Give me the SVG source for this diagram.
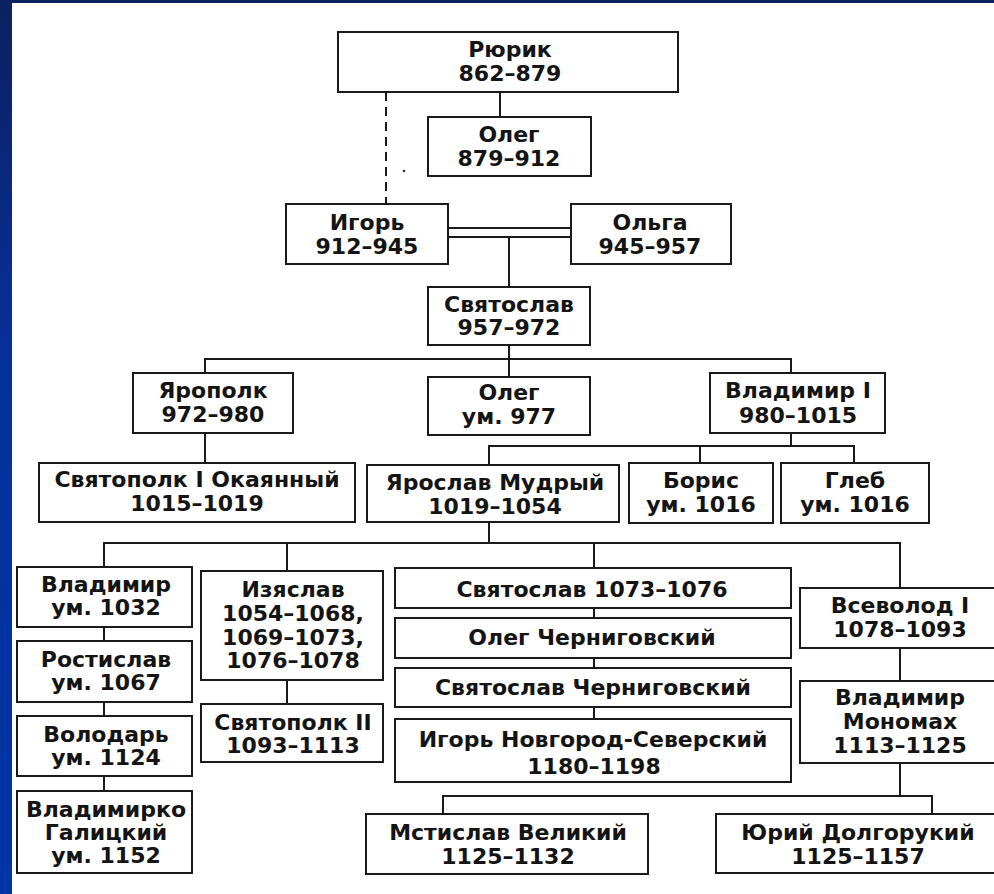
<svg xmlns="http://www.w3.org/2000/svg" width="994" height="894" viewBox="0 0 994 894">
<defs>
<linearGradient id="bl" x1="0" y1="0" x2="0" y2="1">
<stop offset="0" stop-color="#0b2160"/>
<stop offset="0.4" stop-color="#06309a"/>
<stop offset="1" stop-color="#0035a8"/>
</linearGradient>
<style>
.b{fill:#fff;stroke:#1a1a1a;stroke-width:2}
.t{font-family:"DejaVu Sans","Liberation Sans",sans-serif;font-weight:bold;font-size:22px;fill:#141414;text-anchor:middle}
.c line,.c path{stroke:#1a1a1a;stroke-width:2;fill:none}
</style>
</defs>
<rect x="0" y="0" width="994" height="894" fill="#fff"/>
<rect x="0" y="0" width="12" height="894" fill="url(#bl)"/>
<rect x="0" y="0" width="994" height="3" fill="#0b2160"/>

<g id="connectors" class="c">
<line x1="500" y1="92" x2="500" y2="117"/>
<line x1="386" y1="92" x2="386" y2="204" stroke-dasharray="9,6"/>
<line x1="448" y1="228" x2="571" y2="228"/>
<line x1="448" y1="237" x2="571" y2="237"/>
<line x1="509" y1="237" x2="509" y2="287"/>
<line x1="509" y1="345" x2="509" y2="377"/>
<path d="M205 373 V359 H791 V373"/>
<line x1="205" y1="433" x2="205" y2="463"/>
<path d="M791 433 V446 M489 465 V446 H854 V463 M700 446 V463"/>
<line x1="489" y1="522" x2="489" y2="543"/>
<path d="M104 567 V543 H900 V588 M287 543 V571 M594 543 V568"/>
<line x1="104" y1="627" x2="104" y2="641"/>
<line x1="104" y1="702" x2="104" y2="716"/>
<line x1="104" y1="776" x2="104" y2="791"/>
<line x1="287" y1="680" x2="287" y2="704"/>
<line x1="594" y1="608" x2="594" y2="618"/>
<line x1="594" y1="658" x2="594" y2="668"/>
<line x1="594" y1="707" x2="594" y2="719"/>
<line x1="900" y1="648" x2="900" y2="681"/>
<path d="M900 763 V796 M443 814 V796 H932 V814"/>
</g>
<circle cx="404" cy="171" r="1.3" fill="#333"/>

<g id="rurik"><rect class="b" x="338" y="32" width="340" height="60"/><text class="t"><tspan x="510" y="57">Рюрик</tspan><tspan x="510" y="81">862–879</tspan></text></g>
<g id="oleg"><rect class="b" x="428" y="117" width="163" height="59"/><text class="t"><tspan x="509" y="142">Олег</tspan><tspan x="509" y="166">879–912</tspan></text></g>
<g id="igor"><rect class="b" x="286" y="204" width="162" height="60"/><text class="t"><tspan x="367" y="230">Игорь</tspan><tspan x="367" y="254">912–945</tspan></text></g>
<g id="olga"><rect class="b" x="571" y="204" width="160" height="60"/><text class="t"><tspan x="650" y="230">Ольга</tspan><tspan x="650" y="254">945–957</tspan></text></g>
<g id="svyatoslav"><rect class="b" x="428" y="287" width="162" height="58"/><text class="t"><tspan x="509" y="312">Святослав</tspan><tspan x="509" y="335">957–972</tspan></text></g>
<g id="yaropolk"><rect class="b" x="133" y="373" width="160" height="60"/><text class="t"><tspan x="213" y="398">Ярополк</tspan><tspan x="213" y="422">972–980</tspan></text></g>
<g id="oleg2"><rect class="b" x="428" y="377" width="162" height="58"/><text class="t"><tspan x="509" y="400">Олег</tspan><tspan x="509" y="424">ум. 977</tspan></text></g>
<g id="vladimir1"><rect class="b" x="710" y="373" width="175" height="60"/><text class="t"><tspan x="798" y="398">Владимир I</tspan><tspan x="798" y="423">980–1015</tspan></text></g>
<g id="svyatopolk1"><rect class="b" x="39" y="463" width="316" height="59"/><text class="t"><tspan x="197" y="487">Святополк I Окаянный</tspan><tspan x="197" y="511">1015–1019</tspan></text></g>
<g id="yaroslav"><rect class="b" x="367" y="465" width="252" height="57"/><text class="t"><tspan x="495" y="490">Ярослав Мудрый</tspan><tspan x="495" y="514">1019–1054</tspan></text></g>
<g id="boris"><rect class="b" x="629" y="463" width="144" height="60"/><text class="t"><tspan x="701" y="488">Борис</tspan><tspan x="701" y="512">ум. 1016</tspan></text></g>
<g id="gleb"><rect class="b" x="781" y="463" width="148" height="60"/><text class="t"><tspan x="855" y="488">Глеб</tspan><tspan x="855" y="512">ум. 1016</tspan></text></g>
<g id="vladimir1032"><rect class="b" x="17" y="567" width="175" height="60"/><text class="t"><tspan x="106" y="592">Владимир</tspan><tspan x="106" y="615">ум. 1032</tspan></text></g>
<g id="rostislav"><rect class="b" x="17" y="641" width="175" height="61"/><text class="t"><tspan x="106" y="667">Ростислав</tspan><tspan x="106" y="690">ум. 1067</tspan></text></g>
<g id="volodar"><rect class="b" x="17" y="716" width="175" height="60"/><text class="t"><tspan x="106" y="742">Володарь</tspan><tspan x="106" y="765">ум. 1124</tspan></text></g>
<g id="vladimirko"><rect class="b" x="17" y="791" width="175" height="82"/><text class="t"><tspan x="106" y="817">Владимирко</tspan><tspan x="106" y="840">Галицкий</tspan><tspan x="106" y="863">ум. 1152</tspan></text></g>
<g id="izyaslav"><rect class="b" x="201" y="571" width="182" height="109"/><text class="t"><tspan x="293" y="597">Изяслав</tspan><tspan x="293" y="621">1054–1068,</tspan><tspan x="293" y="645">1069–1073,</tspan><tspan x="293" y="668">1076–1078</tspan></text></g>
<g id="svyatopolk2"><rect class="b" x="201" y="704" width="182" height="58"/><text class="t"><tspan x="293" y="730">Святополк II</tspan><tspan x="293" y="753">1093–1113</tspan></text></g>
<g id="svyatoslav1073"><rect class="b" x="395" y="568" width="396" height="40"/><text class="t" x="592" y="597">Святослав 1073–1076</text></g>
<g id="olegch"><rect class="b" x="395" y="618" width="396" height="40"/><text class="t" x="592" y="645">Олег Черниговский</text></g>
<g id="svyatoslavch"><rect class="b" x="395" y="668" width="396" height="39"/><text class="t" x="593" y="695">Святослав Черниговский</text></g>
<g id="igorns"><rect class="b" x="395" y="719" width="396" height="63"/><text class="t"><tspan x="593" y="747">Игорь Новгород-Северский</tspan><tspan x="594" y="774">1180–1198</tspan></text></g>
<g id="vsevolod"><rect class="b" x="800" y="588" width="200" height="60"/><text class="t"><tspan x="900" y="613">Всеволод I</tspan><tspan x="900" y="637">1078–1093</tspan></text></g>
<g id="monomakh"><rect class="b" x="800" y="681" width="200" height="82"/><text class="t"><tspan x="900" y="705">Владимир</tspan><tspan x="900" y="729">Мономах</tspan><tspan x="900" y="753">1113–1125</tspan></text></g>
<g id="mstislav"><rect class="b" x="366" y="814" width="282" height="60"/><text class="t"><tspan x="508" y="840">Мстислав Великий</tspan><tspan x="508" y="864">1125–1132</tspan></text></g>
<g id="yuri"><rect class="b" x="716" y="814" width="284" height="59"/><text class="t"><tspan x="858" y="840">Юрий Долгорукий</tspan><tspan x="858" y="864">1125–1157</tspan></text></g>
</svg>
